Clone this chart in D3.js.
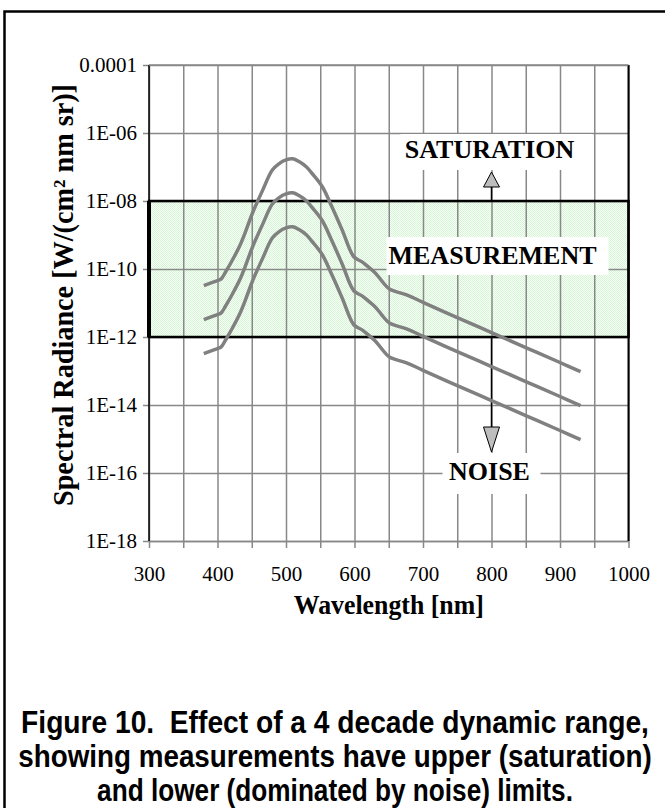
<!DOCTYPE html>
<html>
<head>
<meta charset="utf-8">
<script src="https://cdn.jsdelivr.net/npm/d3@7"></script>
<style>
  body { margin: 0; background: #fff; }
  text { font-family: "Liberation Serif", "Times New Roman", serif; }
</style>
</head>
<body>
<div id="chart"></div>
<script>
// wavelengths [nm]
var wavelength = [380, 400, 405, 412, 420, 432, 440, 451, 466, 480, 490, 500, 510, 519, 530, 538,
  553, 567, 582, 599, 611, 621, 631, 641, 651, 676, 700, 750, 800, 850, 900, 930];

// spectral radiance of the three curves [W/(cm2 nm sr)]
var radianceHigh = [3.24e-11, 4.57e-11, 5.01e-11, 8.32e-11, 1.58e-10, 4.57e-10, 1.12e-9, 4.37e-9,
  2.09e-8, 8.13e-8, 1.26e-7, 1.62e-7, 1.74e-7, 1.45e-7, 1.00e-7, 6.46e-8,
  2.63e-8, 6.76e-9, 1.41e-9, 2.29e-10, 1.62e-10, 1.12e-10, 7.41e-11, 4.17e-11,
  2.57e-11, 1.74e-11, 1.05e-11, 3.72e-12, 1.35e-12, 4.90e-13, 1.78e-13, 9.55e-14];
var radianceMid = [3.24e-12, 4.57e-12, 5.01e-12, 8.32e-12, 1.58e-11, 4.57e-11, 1.12e-10, 4.37e-10,
  2.09e-9, 8.13e-9, 1.26e-8, 1.62e-8, 1.74e-8, 1.45e-8, 1.00e-8, 6.46e-9,
  2.63e-9, 6.76e-10, 1.41e-10, 2.29e-11, 1.62e-11, 1.12e-11, 7.41e-12, 4.17e-12,
  2.57e-12, 1.74e-12, 1.05e-12, 3.72e-13, 1.35e-13, 4.90e-14, 1.78e-14, 9.55e-15];
var radianceLow = [3.24e-13, 4.57e-13, 5.01e-13, 8.32e-13, 1.58e-12, 4.57e-12, 1.12e-11, 4.37e-11,
  2.09e-10, 8.13e-10, 1.26e-9, 1.62e-9, 1.74e-9, 1.45e-9, 1.00e-9, 6.46e-10,
  2.63e-10, 6.76e-11, 1.41e-11, 2.29e-12, 1.62e-12, 1.12e-12, 7.41e-13, 4.17e-13,
  2.57e-13, 1.74e-13, 1.05e-13, 3.72e-14, 1.35e-14, 4.90e-15, 1.78e-15, 9.55e-16];

// measurement window (4 decades)
var windowTop = 1e-8;
var windowBottom = 1e-12;

// axes
var xTicks = [300, 400, 500, 600, 700, 800, 900, 1000];
var xMinorTicks = [300, 350, 400, 450, 500, 550, 600, 650, 700, 750, 800, 850, 900, 950, 1000];
var yTicks = [1e-18, 1e-16, 1e-14, 1e-12, 1e-10, 1e-8, 1e-6, 1e-4];
var yTickLabels = ["1E-18", "1E-16", "1E-14", "1E-12", "1E-10", "1E-08", "1E-06", "0.0001"];

var caption = [
  "Figure 10.  Effect of a 4 decade dynamic range,",
  "showing measurements have upper (saturation)",
  "and lower (dominated by noise) limits."
];

var width = 665;
var height = 808;
var plotLeft = 149, plotRight = 628.5, plotTop = 65, plotBottom = 541;

var svg = d3.select("#chart")
  .append("svg")
  .attr("width", width)
  .attr("height", height);

// frame round the figure
svg.append("path")
  .attr("d", "M4.5," + height + " V11.5 H" + width)
  .attr("fill", "none")
  .attr("stroke", "black")
  .attr("stroke-width", 2.5);

var x = d3.scaleLinear()
  .domain([300, 1000])
  .range([plotLeft, plotRight]);

var y = d3.scaleLog()
  .domain([1e-18, 1e-4])
  .range([plotBottom, plotTop]);

// dotted green fill
var defs = svg.append("defs");
var pat = defs.append("pattern")
  .attr("id", "dots")
  .attr("patternUnits", "userSpaceOnUse")
  .attr("width", 2)
  .attr("height", 2);
pat.append("rect").attr("width", 2).attr("height", 2).attr("fill", "#f7fff7");
pat.append("rect").attr("width", 1).attr("height", 1).attr("fill", "#d6f5d6");
pat.append("rect").attr("x", 1).attr("y", 1).attr("width", 1).attr("height", 1).attr("fill", "#d6f5d6");

svg.append("rect")
  .attr("x", x(300))
  .attr("y", y(windowTop))
  .attr("width", x(1000) - x(300))
  .attr("height", y(windowBottom) - y(windowTop))
  .attr("fill", "url(#dots)");

// grid
var grid = svg.append("g")
  .attr("transform", "translate(0," + plotBottom + ")")
  .call(d3.axisBottom(x).tickValues(xMinorTicks).tickSize(-(plotBottom - plotTop)).tickFormat(""));
grid.select(".domain").remove();
grid.selectAll("line").attr("stroke", "#888").attr("stroke-width", 1.5);

var ygrid = svg.append("g")
  .attr("transform", "translate(" + plotLeft + ",0)")
  .call(d3.axisLeft(y).tickValues(yTicks).tickSize(-(plotRight - plotLeft)).tickFormat(""));
ygrid.select(".domain").remove();
ygrid.selectAll("line").attr("stroke", "#888").attr("stroke-width", 1.5);

// x axis: small ticks + labels
var xAxis = svg.append("g")
  .attr("transform", "translate(0," + plotBottom + ")")
  .call(d3.axisBottom(x).tickValues(xMinorTicks).tickSize(7).tickFormat("").tickSizeOuter(0));
xAxis.select(".domain").attr("stroke", "#888").attr("stroke-width", 1.5);
xAxis.selectAll("line").attr("stroke", "#888").attr("stroke-width", 1.5);

var xLabels = svg.append("g")
  .attr("transform", "translate(0," + plotBottom + ")")
  .call(d3.axisBottom(x).tickValues(xTicks).tickSize(0).tickPadding(25).tickFormat(d3.format("d")));
xLabels.select(".domain").remove();
xLabels.selectAll("text")
  .style("font-family", "Liberation Serif, Times New Roman, serif")
  .style("font-size", "21px")
  .attr("fill", "black");

// y axis
var yAxis = svg.append("g")
  .attr("transform", "translate(" + plotLeft + ",0)")
  .call(d3.axisLeft(y).tickValues(yTicks).tickSize(6).tickPadding(6).tickSizeOuter(0)
    .tickFormat(function(d, i) { return yTickLabels[i]; }));
yAxis.select(".domain").remove();
yAxis.selectAll("line").attr("stroke", "#888").attr("stroke-width", 1.5);
yAxis.selectAll("text")
  .style("font-family", "Liberation Serif, Times New Roman, serif")
  .style("font-size", "21px")
  .attr("fill", "black");

// plot border left/right black, top gray
svg.append("line")
  .attr("x1", plotLeft).attr("x2", plotLeft).attr("y1", plotTop).attr("y2", plotBottom)
  .attr("stroke", "black").attr("stroke-width", 1.5);
svg.append("line")
  .attr("x1", plotRight).attr("x2", plotRight).attr("y1", plotTop).attr("y2", plotBottom)
  .attr("stroke", "black").attr("stroke-width", 2);
svg.append("line")
  .attr("x1", plotLeft).attr("x2", plotRight).attr("y1", plotTop).attr("y2", plotTop)
  .attr("stroke", "#888").attr("stroke-width", 1.5);

// measurement window outline
svg.append("rect")
  .attr("x", x(300))
  .attr("y", y(windowTop))
  .attr("width", x(1000) - x(300))
  .attr("height", y(windowBottom) - y(windowTop))
  .attr("fill", "none")
  .attr("stroke", "black")
  .attr("stroke-width", 2.5);
svg.append("line")
  .attr("x1", plotLeft).attr("x2", plotLeft)
  .attr("y1", y(windowTop)).attr("y2", y(windowBottom))
  .attr("stroke", "black").attr("stroke-width", 4);

// arrows
var ax = x(800);
svg.append("line")
  .attr("x1", ax).attr("x2", ax).attr("y1", y(windowTop)).attr("y2", 187)
  .attr("stroke", "black").attr("stroke-width", 1.5);
svg.append("path")
  .attr("d", "M" + (ax - 8) + ",187 L" + ax + ",172 L" + (ax + 8) + ",187 Z")
  .attr("fill", "#bdbdbd").attr("stroke", "black").attr("stroke-width", 1);

svg.append("line")
  .attr("x1", ax).attr("x2", ax).attr("y1", y(windowBottom)).attr("y2", 427)
  .attr("stroke", "black").attr("stroke-width", 1.5);
svg.append("path")
  .attr("d", "M" + (ax - 8) + ",427 L" + ax + ",452 L" + (ax + 8) + ",427 Z")
  .attr("fill", "#bdbdbd").attr("stroke", "black").attr("stroke-width", 1);

// curves
var line = d3.line()
  .x(function(d) { return x(d[0]); })
  .y(function(d) { return y(d[1]); })
  .curve(d3.curveCatmullRom.alpha(0.5));

[radianceHigh, radianceMid, radianceLow].forEach(function(series) {
  svg.append("path")
    .datum(d3.zip(wavelength, series))
    .attr("d", line)
    .attr("fill", "none")
    .attr("stroke", "#808080")
    .attr("stroke-width", 3.5)
    .attr("stroke-linejoin", "round");
});

// labels with white boxes
function boxLabel(txt, bx, by, bw, bh, tx, ty) {
  svg.append("rect")
    .attr("x", bx).attr("y", by).attr("width", bw).attr("height", bh)
    .attr("fill", "white");
  svg.append("text")
    .attr("x", tx).attr("y", ty)
    .attr("text-anchor", "middle")
    .style("font-size", "26px")
    .style("font-weight", "bold")
    .text(txt);
}
boxLabel("SATURATION", ax - 91, 134, 192, 36, ax - 2, 158);
boxLabel("MEASUREMENT", ax - 105, 237, 222, 38, ax + 1, 264);
boxLabel("NOISE", ax - 49, 453, 98, 41, ax - 2, 480);

// axis titles
svg.append("text")
  .attr("x", (plotLeft + plotRight) / 2)
  .attr("y", 614)
  .attr("text-anchor", "middle")
  .attr("textLength", 190)
  .attr("lengthAdjust", "spacingAndGlyphs")
  .style("font-size", "28px")
  .style("font-weight", "bold")
  .text("Wavelength [nm]");

svg.append("text")
  .attr("transform", "translate(73,295) rotate(-90)")
  .attr("text-anchor", "middle")
  .attr("textLength", 422)
  .attr("lengthAdjust", "spacingAndGlyphs")
  .style("font-size", "29px")
  .style("font-weight", "bold")
  .text("Spectral Radiance [W/(cm² nm sr)]");

// caption: condensed bold sans, squeezed to the widths in the picture
var capWidths = [628, 634, 476];
caption.forEach(function(c, i) {
  var t = svg.append("text")
    .attr("text-anchor", "middle")
    .style("white-space", "pre")
    .style("font-family", "Liberation Sans Narrow, Arial Narrow, Liberation Sans, Arial, sans-serif")
    .style("font-size", "32px")
    .style("font-weight", "bold")
    .text(c);
  var w = t.node().getComputedTextLength();
  var sx = capWidths[i] / w;
  t.attr("transform", "translate(335," + (733 + i * 34) + ") scale(" + sx + ",1)");
});
</script>
</body>
</html>
